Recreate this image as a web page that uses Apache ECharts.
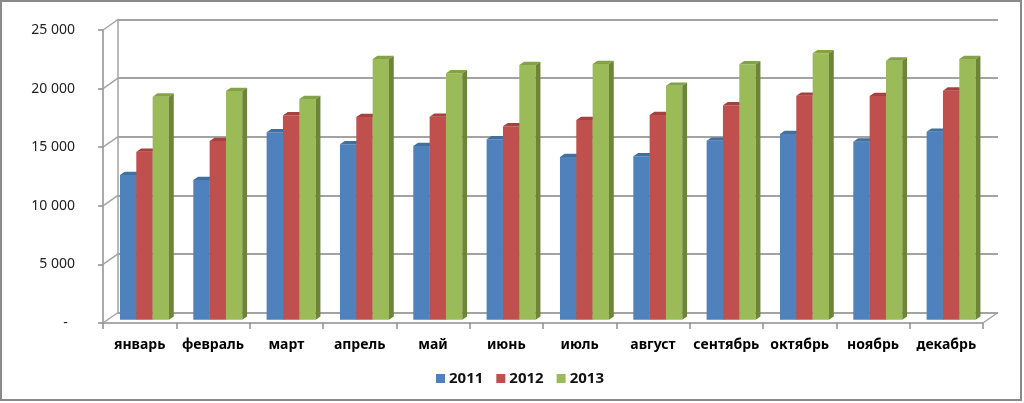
<!DOCTYPE html>
<html>
<head>
<meta charset="utf-8">
<script src="https://cdn.jsdelivr.net/npm/echarts@6/dist/echarts.min.js"></script>
<style>html,body{margin:0;padding:0;background:#fff}#c{width:1024px;height:403px}</style>
</head>
<body>
<div id="c"></div>
<script>
const categories = ['январь','февраль','март','апрель','май','июнь','июль','август','сентябрь','октябрь','ноябрь','декабрь'];
const years = ['2011','2012','2013'];
const values2011 = [12350,11930,16000,14970,14830,15400,13890,13950,15280,15850,15200,16050];
const values2012 = [14340,15260,17450,17300,17330,16510,17050,17470,18300,19120,19100,19550];
const values2013 = [19040,19520,18840,22250,21030,21740,21830,19970,21800,22740,22110,22250];
const yTicks = [0,5000,10000,15000,20000,25000];

const FONT = '"Noto Sans", "Open Sans", sans-serif';
const G = {left:103, top:30, width:880, height:293};
const DX = 15, DY = 10.5;          // depth of the 3D box
const BX = 4.8, BY = 3.2;          // bar front-face depth offset
const BD_X = 4.8, BD_Y = 3.3;      // bar depth
const colors = ['#4F81BD','#C0504D','#9BBB59'];
const topColors = ['#41709F','#A5413E','#84A24A'];
const sideColors = ['#355E8E','#8D3A37','#6C8536'];
const GRID_LINE = '#a3a3a3';
const AXIS_LINE = '#8f8f8f';

const fmt = v => v === 0 ? '-  ' : String(v).replace(/\B(?=(\d{3})+(?!\d))/g, ' ');

function barRender(idx){
  return function(params, api){
    const i = api.value(0), v = api.value(1);
    const top = api.coord([i, v]);
    const base = api.coord([i, 0]);
    const band = api.size([1, 0])[0];
    const bw = band * 0.2227;
    const x0 = top[0] - 1.5 * bw + idx * bw;
    const y1 = top[1], y0 = base[1];
    return {type:'group', children:[
      {type:'rect', shape:{x:x0, y:y1, width:bw, height:y0 - y1}, style:{fill:colors[idx]}},
      {type:'polygon', shape:{points:[[x0,y1],[x0+bw,y1],[x0+bw+BD_X,y1-BD_Y],[x0+BD_X,y1-BD_Y]]}, style:{fill:topColors[idx]}},
      {type:'polygon', shape:{points:[[x0+bw,y1],[x0+bw+BD_X,y1-BD_Y],[x0+bw+BD_X,y0-BD_Y],[x0+bw,y0]]}, style:{fill:sideColors[idx]}}
    ]};
  };
}

function connRender(params, api){
  const cs = params.coordSys;
  const v = api.value(1);
  const y = api.coord([0, v])[1];
  const ch = [{type:'line', shape:{x1:cs.x, y1:y, x2:cs.x + DX, y2:y - DY}, style:{stroke:GRID_LINE, lineWidth:1.5}}];
  if (v === 0) {
    ch.push({type:'line', shape:{x1:cs.x + cs.width, y1:y, x2:cs.x + cs.width + DX, y2:y - DY}, style:{stroke:GRID_LINE, lineWidth:1.5}});
  }
  return {type:'group', children:ch};
}

const chart = echarts.init(document.getElementById('c'), null, {renderer:'canvas'});
const valueAxisBase = {type:'value', min:0, max:25000, interval:5000};
const allSeries = [values2011, values2012, values2013];

chart.setOption({
  animation:false,
  backgroundColor:'#fff',
  graphic:[{type:'rect', shape:{x:1, y:1, width:1020, height:399}, style:{fill:'none', stroke:'#8a8a8a', lineWidth:2}, z:-1}],
  legend:{
    data:years, left:431, top:366, icon:'rect', itemWidth:9, itemHeight:9, itemGap:13,
    textStyle:{fontFamily:FONT, fontWeight:'bold', fontSize:15, color:'#111', padding:[0,0,0,-1]}
  },
  grid:[
    {left:G.left, top:G.top, width:G.width, height:G.height},
    {left:G.left + DX, top:G.top - DY, width:G.width, height:G.height},
    {left:G.left + BX, top:G.top - BY, width:G.width, height:G.height}
  ],
  xAxis:[
    {type:'category', gridIndex:0, data:categories, boundaryGap:true,
      axisLine:{show:true, lineStyle:{color:AXIS_LINE, width:1.5}},
      axisTick:{show:true, interval:0, length:6, lineStyle:{color:AXIS_LINE, width:1.5}},
      axisLabel:{interval:0, margin:15, fontFamily:FONT, fontWeight:'bold', fontSize:14, color:'#000'}},
    {type:'category', gridIndex:1, data:categories, show:false},
    {type:'category', gridIndex:2, data:categories, show:false}
  ],
  yAxis:[
    Object.assign({gridIndex:0,
      axisLine:{show:true, lineStyle:{color:AXIS_LINE, width:1.5}},
      axisTick:{show:true, length:5, lineStyle:{color:AXIS_LINE, width:1.5}},
      axisLabel:{margin:28, fontFamily:FONT, fontSize:14, color:'#222', formatter:fmt},
      splitLine:{show:false}}, valueAxisBase),
    Object.assign({gridIndex:1,
      axisLine:{show:true, lineStyle:{color:GRID_LINE, width:1.5}},
      axisTick:{show:false}, axisLabel:{show:false},
      splitLine:{show:true, lineStyle:{color:GRID_LINE, width:2}}}, valueAxisBase),
    Object.assign({gridIndex:2, show:false, splitLine:{show:false}}, valueAxisBase)
  ],
  series:[
    {type:'custom', name:'walls', xAxisIndex:0, yAxisIndex:0, clip:false, silent:true, z:1,
      renderItem:connRender, data:yTicks.map(v => [0, v]), encode:{x:0, y:1}}
  ].concat(allSeries.map((vals, k) => ({
    type:'custom', name:years[k], xAxisIndex:2, yAxisIndex:2, clip:false, z:3,
    itemStyle:{color:colors[k]},
    renderItem:barRender(k),
    data:vals.map((v, i) => [i, v]), encode:{x:0, y:1}
  })))
});
</script>
</body>
</html>
